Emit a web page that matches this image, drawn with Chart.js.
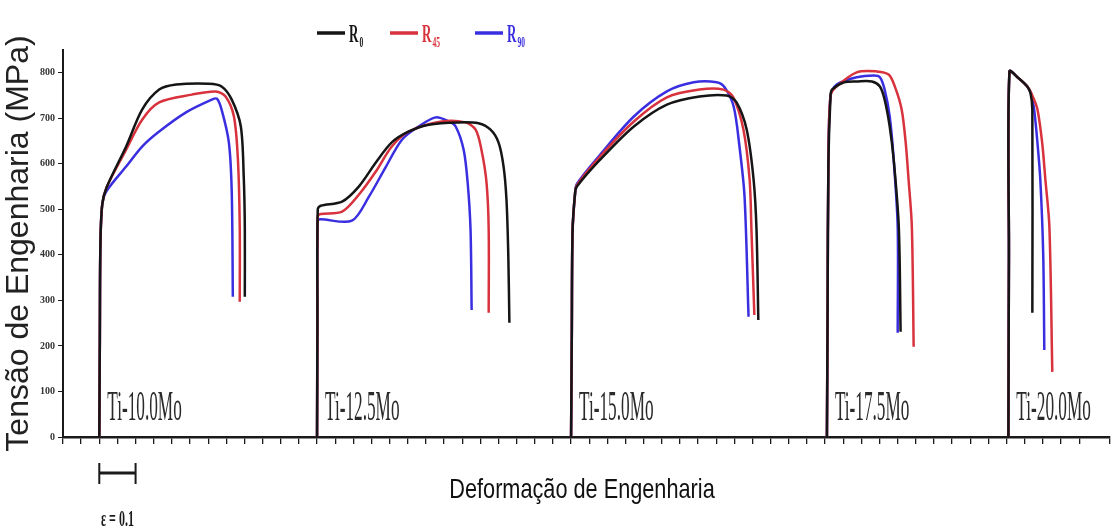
<!DOCTYPE html>
<html>
<head>
<meta charset="utf-8">
<script src="https://cdn.jsdelivr.net/npm/chart.js@4.4.1/dist/chart.umd.min.js"></script>
<style>
  html, body { margin: 0; padding: 0; background: #fff; }
  #wrap { width: 1113px; height: 529px; }
</style>
</head>
<body>
<div id="wrap"><canvas id="curves" width="1113" height="529"></canvas></div>
<script>
// alloys and where each group of curves starts on the strain axis
var alloys = ['Ti-10.0Mo', 'Ti-12.5Mo', 'Ti-15.0Mo', 'Ti-17.5Mo', 'Ti-20.0Mo'];
var startStrain = [0.10, 0.70, 1.40, 2.105, 2.605];
var yTicks = [0, 100, 200, 300, 400, 500, 600, 700, 800];

// R0 (black)
var r0Strain = [
    [0, 0.0015, 0.003, 0.008, 0.02, 0.074, 0.118, 0.165, 0.212, 0.302, 0.337, 0.365, 0.390, 0.398, 0.401, 0.401],
    [0, 0.001, 0.002, 0.010, 0.069, 0.115, 0.162, 0.206, 0.253, 0.308, 0.390, 0.445, 0.478, 0.500, 0.514, 0.522, 0.527, 0.530],
    [0, 0.002, 0.004, 0.011, 0.016, 0.080, 0.173, 0.264, 0.354, 0.429, 0.456, 0.484, 0.503, 0.511, 0.516],
    [0, 0.002, 0.004, 0.010, 0.014, 0.047, 0.082, 0.124, 0.146, 0.159, 0.173, 0.184, 0.198, 0.203],
    [0, 0.0015, 0.003, 0.025, 0.052, 0.061, 0.066, 0.066]
];
var r0Stress = [
    [0, 210, 420, 510, 548, 638, 719, 763, 774, 776, 770, 741, 682, 572, 462, 308],
    [0, 250, 500, 508, 517, 550, 603, 647, 671, 686, 691, 689, 675, 647, 594, 521, 400, 251],
    [0, 225, 450, 535, 550, 609, 682, 730, 748, 750, 735, 675, 565, 455, 257],
    [0, 300, 600, 750, 763, 779, 781, 781, 770, 741, 682, 609, 462, 231],
    [0, 400, 803, 790, 770, 755, 719, 273]
];

// R45 (red)
var r45Strain = [
    [0, 0.0015, 0.003, 0.008, 0.02, 0.074, 0.118, 0.165, 0.255, 0.321, 0.348, 0.371, 0.382, 0.387, 0.387],
    [0, 0.001, 0.002, 0.010, 0.069, 0.115, 0.162, 0.206, 0.253, 0.343, 0.409, 0.437, 0.453, 0.467, 0.473, 0.473],
    [0, 0.002, 0.004, 0.011, 0.016, 0.080, 0.173, 0.264, 0.354, 0.420, 0.447, 0.475, 0.492, 0.497, 0.505],
    [0, 0.002, 0.004, 0.010, 0.027, 0.082, 0.137, 0.170, 0.187, 0.206, 0.217, 0.225, 0.234, 0.239],
    [0, 0.0015, 0.003, 0.025, 0.052, 0.065, 0.080, 0.093, 0.102, 0.113, 0.121]
];
var r45Stress = [
    [0, 210, 420, 510, 548, 631, 697, 735, 752, 759, 748, 704, 609, 462, 297],
    [0, 240, 485, 490, 495, 532, 583, 638, 671, 693, 691, 675, 631, 559, 455, 273],
    [0, 225, 450, 535, 553, 616, 693, 746, 763, 763, 746, 675, 565, 455, 268],
    [0, 300, 600, 750, 770, 801, 803, 796, 770, 719, 647, 565, 462, 198],
    [0, 400, 803, 790, 770, 752, 720, 647, 565, 462, 143]
];

// R90 (blue)
var r90Strain = [
    [0, 0.0015, 0.003, 0.008, 0.02, 0.074, 0.118, 0.165, 0.239, 0.310, 0.324, 0.337, 0.357, 0.365, 0.368],
    [0, 0.001, 0.002, 0.010, 0.096, 0.143, 0.190, 0.234, 0.280, 0.327, 0.363, 0.382, 0.404, 0.415, 0.423, 0.426],
    [0, 0.002, 0.004, 0.011, 0.016, 0.080, 0.173, 0.264, 0.338, 0.401, 0.423, 0.448, 0.464, 0.478, 0.489],
    [0, 0.002, 0.004, 0.010, 0.027, 0.082, 0.129, 0.146, 0.159, 0.173, 0.184, 0.195, 0.195],
    [0, 0.0015, 0.003, 0.025, 0.052, 0.063, 0.071, 0.080, 0.088, 0.096, 0.099]
];
var r90Stress = [
    [0, 210, 420, 510, 540, 594, 638, 671, 713, 741, 743, 719, 647, 537, 308],
    [0, 240, 475, 478, 475, 528, 594, 653, 682, 702, 693, 682, 631, 559, 455, 279],
    [0, 225, 450, 535, 556, 620, 704, 759, 779, 779, 768, 726, 638, 528, 264],
    [0, 300, 600, 750, 774, 790, 794, 790, 763, 704, 609, 462, 229],
    [0, 400, 803, 790, 770, 752, 719, 647, 565, 400, 191]
];

var series = [
    { name: 'R0', sub: '0', strain: r0Strain, stress: r0Stress, color: '#151515' },
    { name: 'R45', sub: '45', strain: r45Strain, stress: r45Stress, color: '#d8323c' },
    { name: 'R90', sub: '90', strain: r90Strain, stress: r90Stress, color: '#3a2fe0' }
];

var datasets = [];
series.forEach(function (s) {
    alloys.forEach(function (alloy, i) {
        datasets.push({
            label: s.name + ' ' + alloy,
            data: s.strain[i].map(function (e, k) {
                return { x: startStrain[i] + e, y: s.stress[i][k] };
            }),
            borderColor: s.color,
            borderWidth: 2.5,
            pointRadius: 0,
            tension: 0.3,
            fill: false
        });
    });
});

// draw text squeezed sideways, the figure uses very narrow type
function squeezed(ctx, text, x, y, font, sx, color, align) {
    ctx.save();
    ctx.translate(x, y);
    ctx.scale(sx, 1);
    ctx.font = font;
    ctx.fillStyle = color;
    ctx.textAlign = align || 'left';
    ctx.textBaseline = 'alphabetic';
    ctx.fillText(text, 0, 0);
    ctx.restore();
}

var figureNotes = {
    id: 'figureNotes',
    afterDatasetsDraw: function (chart) {
        var ctx = chart.ctx, xs = chart.scales.x, ys = chart.scales.y;

        // alloy names
        alloys.forEach(function (name, i) {
            squeezed(ctx, name, xs.getPixelForValue(startStrain[i] + 0.022), ys.bottom - 17,
                '42px "Liberation Serif"', 0.41, '#2a2a2a', 'left');
        });

        // legend with subscripts
        var lx = [317, 390, 475];
        series.forEach(function (s, i) {
            var x = lx[i];
            ctx.save();
            ctx.strokeStyle = s.color;
            ctx.lineWidth = 3.5;
            ctx.beginPath();
            ctx.moveTo(x, 33);
            ctx.lineTo(x + 28, 33);
            ctx.stroke();
            ctx.font = 'bold 26px "Liberation Serif"';
            var rw = ctx.measureText('R').width * 0.5;
            ctx.restore();
            squeezed(ctx, 'R', x + 32, 42, 'bold 26px "Liberation Serif"', 0.5, s.color, 'left');
            squeezed(ctx, s.sub, x + 33 + rw, 47, 'bold 15px "Liberation Serif"', 0.5, s.color, 'left');
        });

        // axis title, narrow like the original
        squeezed(ctx, 'Deformação de Engenharia', 582, 498, '28px "Liberation Sans"', 0.775, '#111', 'center');

        // scale bar: epsilon = 0.1
        var x0 = xs.getPixelForValue(startStrain[0]);
        var x1 = xs.getPixelForValue(startStrain[0] + 0.1);
        ctx.save();
        ctx.strokeStyle = '#1a1a1a';
        ctx.lineWidth = 3;
        ctx.beginPath();
        ctx.moveTo(x0, 473);
        ctx.lineTo(x1, 473);
        ctx.stroke();
        ctx.lineWidth = 2;
        ctx.beginPath();
        ctx.moveTo(x0, 463); ctx.lineTo(x0, 484);
        ctx.moveTo(x1, 463); ctx.lineTo(x1, 484);
        ctx.stroke();
        ctx.restore();
        squeezed(ctx, 'ε = 0.1', (x0 + x1) / 2, 526, 'bold 24px "Liberation Serif"', 0.5, '#1a1a1a', 'center');
    }
};

new Chart(document.getElementById('curves'), {
    type: 'line',
    data: { datasets: datasets },
    options: {
        responsive: false,
        animation: false,
        layout: { padding: { top: 50, left: 0, right: 0, bottom: 0 } },
        plugins: {
            legend: { display: false },
            tooltip: { enabled: false }
        },
        scales: {
            x: {
                type: 'linear',
                min: 0,
                max: 2.885,
                afterFit: function (scale) { scale.height = 92; },
                border: { color: '#1a1a1a', width: 2.5 },
                grid: { drawOnChartArea: false, tickLength: 7, color: '#1a1a1a', lineWidth: 1.3 },
                ticks: {
                    stepSize: 0.05,
                    maxTicksLimit: 100,
                    autoSkip: false,
                    maxRotation: 0,
                    callback: function () { return ''; }
                }
            },
            y: {
                min: 0,
                max: 850,
                afterFit: function (scale) { scale.width = 63; },
                afterBuildTicks: function (scale) {
                    scale.ticks = yTicks.map(function (v) { return { value: v }; });
                },
                border: { color: '#1a1a1a', width: 2 },
                grid: { drawOnChartArea: false, tickLength: 5, color: '#1a1a1a' },
                ticks: {
                    padding: 3,
                    color: '#333',
                    font: { family: '"Liberation Serif", serif', size: 10, weight: 'bold' }
                },
                title: {
                    display: true,
                    text: 'Tensão de Engenharia (MPa)',
                    color: '#222',
                    font: { family: '"Liberation Sans", Arial, sans-serif', size: 32 },
                    padding: 0
                }
            }
        }
    },
    plugins: [figureNotes]
});
</script>
</body>
</html>
